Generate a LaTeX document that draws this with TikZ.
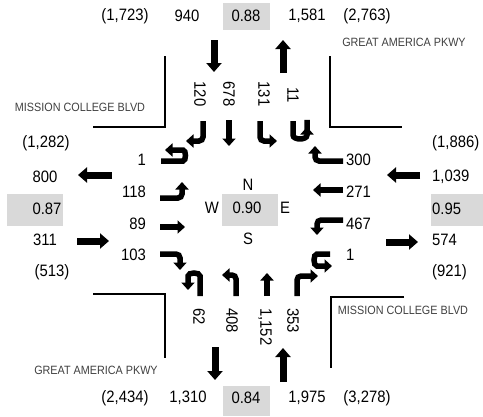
\documentclass[tikz,border=0pt]{standalone}
\usepackage{fontspec}
\setmainfont{Liberation Sans}[FakeStretch=0.9]
\usetikzlibrary{arrows.meta}
\definecolor{boxgray}{RGB}{217,217,217}
\definecolor{streetgray}{RGB}{64,64,64}
\begin{document}
\begin{tikzpicture}[x=1pt,y=-1pt,
  num/.style={font=\fontsize{16.5}{18}\selectfont, inner sep=0pt},
  rnum/.style={num, rotate=-90},
  street/.style={font=\fontsize{12}{13}\selectfont, text=streetgray, inner sep=0pt},
  gbox/.style={fill=boxgray},
  corner/.style={line width=2pt},
  big/.style={line width=7pt, -{Triangle[length=9pt,width=15pt]}},
  lane/.style={line width=5.5pt, -{Triangle[length=7.5pt,width=13pt]}, rounded corners=4pt}]
\useasboundingbox (0,0) rectangle (483,416);
% gray boxes
\fill[gbox] (223,3) rectangle (270,30);
\fill[gbox] (222,194) rectangle (278,226);
\fill[gbox] (7,194) rectangle (63,226);
\fill[gbox] (431,194) rectangle (483,226);
\fill[gbox] (223,386) rectangle (270,416);
% corner lines
\draw[corner] (93,127) -- (165,127) -- (165,56);
\draw[corner] (330,56) -- (330,127) -- (402,127);
\draw[corner] (93,294) -- (165,294) -- (165,358);
\draw[corner] (404,297) -- (331,297) -- (331,368);
% street names
\node[street] (gapN) at (404,42) {GREAT AMERICA PKWY};
\node[street] (mcbW) at (80,107) {MISSION COLLEGE BLVD};
\node[street] (mcbE) at (403,310) {MISSION COLLEGE BLVD};
\node[street] (gapS) at (96,370) {GREAT AMERICA PKWY};
% top row
\node[num] (t1) at (125,16) {(1,723)};
\node[num] (t2) at (187,16) {940};
\node[num] (t3) at (246,16) {0.88};
\node[num] (t4) at (307,16) {1,581};
\node[num] (t5) at (367,16) {(2,763)};
% bottom row
\node[num] (b1) at (125,398) {(2,434)};
\node[num] (b2) at (188,398) {1,310};
\node[num] (b3) at (246,398) {0.84};
\node[num] (b4) at (307,398) {1,975};
\node[num] (b5) at (367,398) {(3,278)};
% left column
\node[num] (l1) at (46,143) {(1,282)};
\node[num] (l2) at (45,177) {800};
\node[num] (l3) at (47,209) {0.87};
\node[num] (l4) at (45,240) {311};
\node[num] (l5) at (52,272) {(513)};
% right column
\node[num,anchor=west] (r1) at (432,143) {(1,886)};
\node[num,anchor=west] (r2) at (432,177) {1,039};
\node[num,anchor=west] (r3) at (432,209) {0.95};
\node[num,anchor=west] (r4) at (432,240) {574};
\node[num,anchor=west] (r5) at (432,272) {(921)};
% center
\node[num] (cN) at (248,185) {N};
\node[num] (cW) at (212,208) {W};
\node[num] (cC) at (247,208) {0.90};
\node[num] (cE) at (285,208) {E};
\node[num] (cS) at (248,239) {S};
% west lane labels
\node[num,anchor=east] (w1) at (146,160) {1};
\node[num,anchor=east] (w2) at (146,192) {118};
\node[num,anchor=east] (w3) at (146,224) {89};
\node[num,anchor=east] (w4) at (146,255) {103};
% east lane labels
\node[num,anchor=west] (e1) at (346,160) {300};
\node[num,anchor=west] (e2) at (346,192) {271};
\node[num,anchor=west] (e3) at (346,224) {467};
\node[num,anchor=west] (e4) at (346,255) {1};
% north lane labels
\node[rnum] (n1) at (200,94) {120};
\node[rnum] (n2) at (229,94) {678};
\node[rnum] (n3) at (264,94) {131};
\node[rnum] (n4) at (293,95) {11};
% south lane labels
\node[rnum,anchor=west] (s1) at (199,308) {62};
\node[rnum,anchor=west] (s2) at (232,308) {408};
\node[rnum,anchor=west] (s3) at (265,308) {1,152};
\node[rnum,anchor=west] (s4) at (293,308) {353};
% approach arrows
\draw[big] (214,40) -- (214,72);
\draw[big] (283,73) -- (283,40);
\draw[big] (112,175) -- (78,175);
\draw[big] (77,241) -- (109,241);
\draw[big] (420,175) -- (387,175);
\draw[big] (386,242) -- (418,242);
\draw[big] (215,347) -- (215,380);
\draw[big] (283,382) -- (283,348);
% north approach lanes
\draw[lane] (203,121) -- (203,141) -- (186,141);
\draw[lane] (229,120) -- (229,146);
\draw[lane] (260,121) -- (260,141) -- (277,141);
\draw[lane] (293,121) -- (293,131) .. controls (293,140.3) and (307,140.3) .. (307,131) -- (307,127);
% west approach lanes
\draw[lane] (161,161) -- (179,161) .. controls (186.3,161) and (186.3,150) .. (179,150) -- (165,150);
\draw[lane] (160,198) -- (182,198) -- (182,182);
\draw[lane] (160,227) -- (185,227);
\draw[lane] (160,254) -- (180,254) -- (180,270);
% east approach lanes
\draw[lane] (343,161) -- (315,161) -- (315,146);
\draw[lane] (343,190) -- (313,190);
\draw[lane] (343,220) -- (317,220) -- (317,235);
\draw[lane] (330,254) -- (321,254) .. controls (313,254) and (313,266) .. (321,266) -- (332,266);
% south approach lanes
\draw[lane] (200,296) -- (200,280) .. controls (200,272) and (188,272) .. (188,280) -- (188,290);
\draw[lane] (236,296) -- (236,275) -- (222,275);
\draw[lane] (267,296) -- (267,273);
\draw[lane] (297,296) -- (297,276) -- (318,276);
\end{tikzpicture}
\end{document}
